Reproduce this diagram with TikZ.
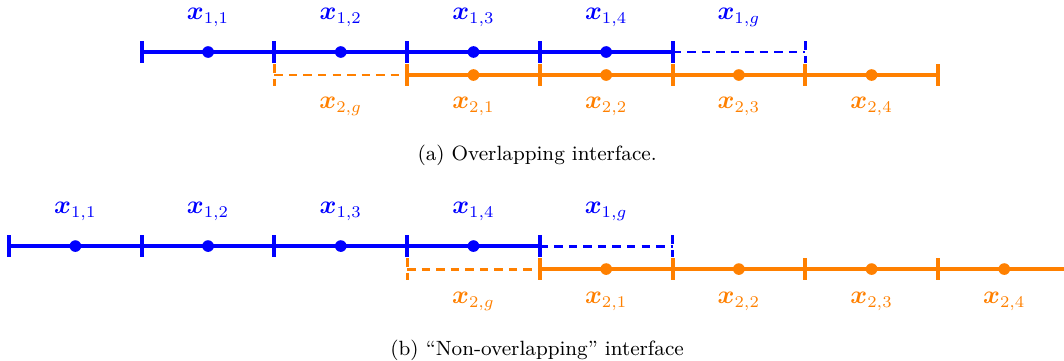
\documentclass[tikz,border=0pt]{standalone}
\usepackage{bm}
\definecolor{dblue}{RGB}{0,0,255}
\definecolor{dorange}{RGB}{255,128,0}
\tikzset{
  dline/.style={line width=1.7pt},
  gline/.style={line width=1.25pt, dash pattern=on 3.6pt off 2.6pt},
  dotnode/.style={circle, fill, inner sep=0pt, minimum size=0.175cm},
  lab/.style={inner sep=0pt, font=\fontsize{10.5pt}{12pt}\selectfont},
  capt/.style={inner sep=0pt, font=\fontsize{8.8pt}{10pt}\selectfont}
}
\begin{document}
\begin{tikzpicture}[x=1.99cm, y=1cm]
\useasboundingbox (-0.068,0) rectangle (7.95,-5.4);

% (a) overlapping: domain 1
\begin{scope}[dblue]
\coordinate (a1) at (1,-0.78); \coordinate (a5) at (5,-0.78); \coordinate (ag) at (6,-0.78);
\draw[dline] (a1) -- (a5);
\draw[dline] (1,-0.62) -- (1,-0.94);
\draw[dline] (2,-0.62) -- (2,-0.94);
\draw[dline] (3,-0.62) -- (3,-0.94);
\draw[dline] (4,-0.62) -- (4,-0.94);
\draw[dline] (5,-0.62) -- (5,-0.94);
\draw[gline] (a5) -- (ag);
\draw[gline] (6,-0.62) -- (6,-0.94);
\node[dotnode] (pa11) at (1.5,-0.78) {};
\node[dotnode] (pa12) at (2.5,-0.78) {};
\node[dotnode] (pa13) at (3.5,-0.78) {};
\node[dotnode] (pa14) at (4.5,-0.78) {};
\node[lab] (la11) at (1.5,-0.26) {$\bm{x}_{1,1}$};
\node[lab] (la12) at (2.5,-0.26) {$\bm{x}_{1,2}$};
\node[lab] (la13) at (3.5,-0.26) {$\bm{x}_{1,3}$};
\node[lab] (la14) at (4.5,-0.26) {$\bm{x}_{1,4}$};
\node[lab] (la1g) at (5.5,-0.26) {$\bm{x}_{1,g}$};
\end{scope}

% (a) overlapping: domain 2
\begin{scope}[dorange]
\coordinate (b2) at (2,-1.125); \coordinate (b3) at (3,-1.125); \coordinate (b7) at (7,-1.125);
\draw[gline] (b2) -- (b3);
\draw[gline] (2,-0.965) -- (2,-1.285);
\draw[dline] (b3) -- (b7);
\draw[dline] (3,-0.965) -- (3,-1.285);
\draw[dline] (4,-0.965) -- (4,-1.285);
\draw[dline] (5,-0.965) -- (5,-1.285);
\draw[dline] (6,-0.965) -- (6,-1.285);
\draw[dline] (7,-0.965) -- (7,-1.285);
\node[dotnode] (pa21) at (3.5,-1.125) {};
\node[dotnode] (pa22) at (4.5,-1.125) {};
\node[dotnode] (pa23) at (5.5,-1.125) {};
\node[dotnode] (pa24) at (6.5,-1.125) {};
\node[lab] (la2g) at (2.5,-1.6) {$\bm{x}_{2,g}$};
\node[lab] (la21) at (3.5,-1.6) {$\bm{x}_{2,1}$};
\node[lab] (la22) at (4.5,-1.6) {$\bm{x}_{2,2}$};
\node[lab] (la23) at (5.5,-1.6) {$\bm{x}_{2,3}$};
\node[lab] (la24) at (6.5,-1.6) {$\bm{x}_{2,4}$};
\end{scope}

\node[capt] (capa) at (3.98,-2.33) {(a) Overlapping interface.};

% (b) non-overlapping: domain 1
\begin{scope}[dblue]
\coordinate (c0) at (0,-3.69); \coordinate (c4) at (4,-3.69); \coordinate (cg) at (5,-3.69);
\draw[dline] (c0) -- (c4);
\draw[dline] (0,-3.53) -- (0,-3.85);
\draw[dline] (1,-3.53) -- (1,-3.85);
\draw[dline] (2,-3.53) -- (2,-3.85);
\draw[dline] (3,-3.53) -- (3,-3.85);
\draw[dline] (4,-3.53) -- (4,-3.85);
\draw[gline] (c4) -- (cg);
\draw[gline] (5,-3.53) -- (5,-3.85);
\node[dotnode] (pb11) at (0.5,-3.69) {};
\node[dotnode] (pb12) at (1.5,-3.69) {};
\node[dotnode] (pb13) at (2.5,-3.69) {};
\node[dotnode] (pb14) at (3.5,-3.69) {};
\node[lab] (lb11) at (0.5,-3.17) {$\bm{x}_{1,1}$};
\node[lab] (lb12) at (1.5,-3.17) {$\bm{x}_{1,2}$};
\node[lab] (lb13) at (2.5,-3.17) {$\bm{x}_{1,3}$};
\node[lab] (lb14) at (3.5,-3.17) {$\bm{x}_{1,4}$};
\node[lab] (lb1g) at (4.5,-3.17) {$\bm{x}_{1,g}$};
\end{scope}

% (b) non-overlapping: domain 2
\begin{scope}[dorange]
\coordinate (d3) at (3,-4.035); \coordinate (d4) at (4,-4.035); \coordinate (dend) at (7.95,-4.035);
\draw[gline] (d3) -- (d4);
\draw[gline] (3,-3.875) -- (3,-4.195);
\draw[dline] (d4) -- (dend);
\draw[dline] (4,-3.875) -- (4,-4.195);
\draw[dline] (5,-3.875) -- (5,-4.195);
\draw[dline] (6,-3.875) -- (6,-4.195);
\draw[dline] (7,-3.875) -- (7,-4.195);
\node[dotnode] (pb21) at (4.5,-4.035) {};
\node[dotnode] (pb22) at (5.5,-4.035) {};
\node[dotnode] (pb23) at (6.5,-4.035) {};
\node[dotnode] (pb24) at (7.5,-4.035) {};
\node[lab] (lb2g) at (3.5,-4.52) {$\bm{x}_{2,g}$};
\node[lab] (lb21) at (4.5,-4.52) {$\bm{x}_{2,1}$};
\node[lab] (lb22) at (5.5,-4.52) {$\bm{x}_{2,2}$};
\node[lab] (lb23) at (6.5,-4.52) {$\bm{x}_{2,3}$};
\node[lab] (lb24) at (7.5,-4.52) {$\bm{x}_{2,4}$};
\end{scope}

\node[capt] (capb) at (3.98,-5.25) {(b)\ ``Non-overlapping'' interface};

\end{tikzpicture}
\end{document}
